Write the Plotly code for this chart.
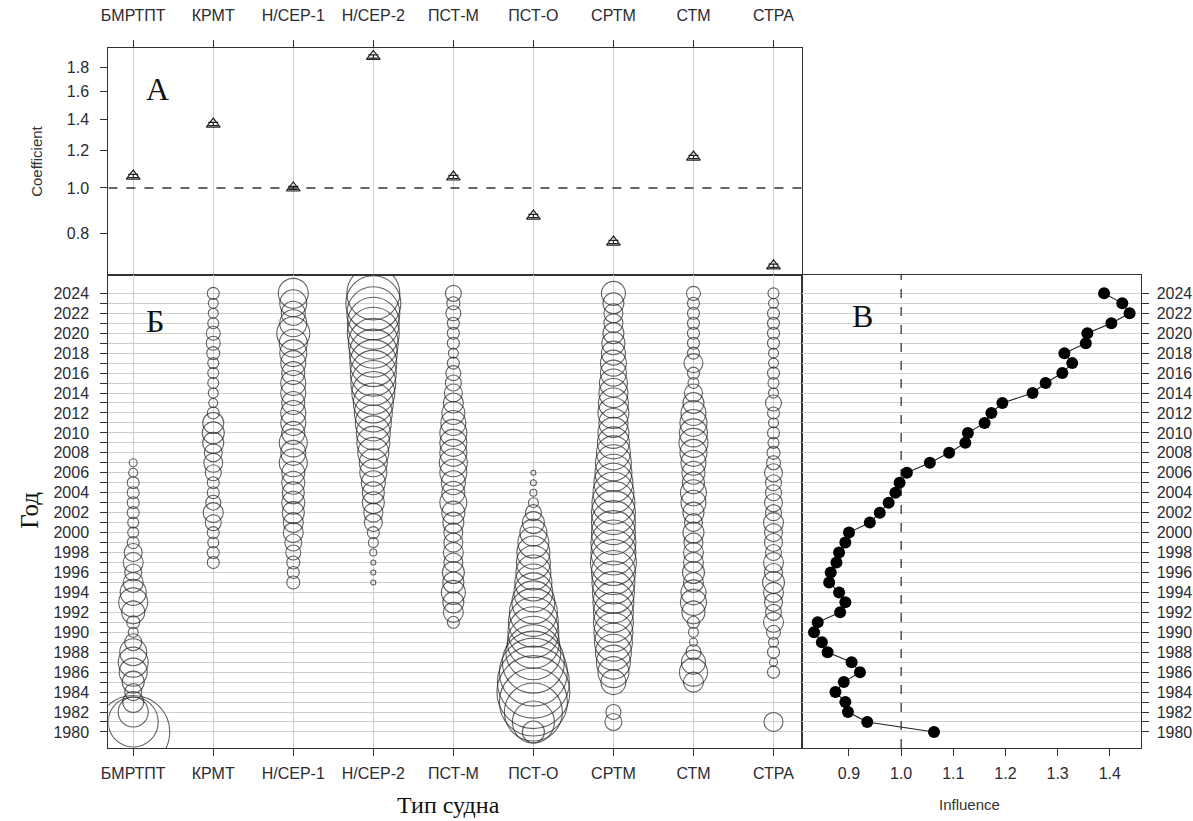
import plotly.graph_objects as go
import math

W, H = 1193, 821

# ---------------- data ----------------
vessel_types = ["БМРТПТ", "КРМТ", "Н/СЕР-1", "Н/СЕР-2", "ПСТ-М", "ПСТ-О", "СРТМ", "СТМ", "СТРА"]
coefficients = [1.06, 1.366, 1.0, 1.9, 1.055, 0.872, 0.768, 1.163, 0.684]

years = list(range(1980, 2025))
influence = [1.063, 0.935, 0.898, 0.893, 0.874, 0.890, 0.921, 0.905, 0.859, 0.848,
             0.833, 0.840, 0.883, 0.893, 0.881, 0.862, 0.865, 0.876, 0.881, 0.893,
             0.900, 0.940, 0.959, 0.976, 0.989, 0.997, 1.011, 1.055, 1.092, 1.123,
             1.128, 1.160, 1.173, 1.194, 1.252, 1.277, 1.309, 1.328, 1.313, 1.354,
             1.357, 1.403, 1.438, 1.424, 1.389]

# relative share of records per vessel type and year (first year given, then to 2024)
bmrtpt_start = 1980
bmrtpt = [73, 50, 30, 21, 17, 22, 28, 30, 27, 17, 10, 13, 23, 29, 26, 20, 17, 20, 18, 12,
          11, 11, 12, 12, 12, 12, 9, 8]
krmt_start = 1997
krmt = [12, 12, 11, 12, 16, 20, 15, 12, 12, 16, 19, 18, 21, 22, 21, 12, 9, 10, 11, 11,
        11, 13, 14, 14, 11, 10, 10, 12]
nser1_start = 1995
nser1 = [13, 12, 13, 15, 17, 20, 20, 22, 23, 22, 23, 23, 28, 25, 28, 23, 25, 25, 23, 25,
         25, 23, 25, 27, 28, 33, 27, 24, 27, 30]
nser2_start = 1995
nser2 = [5, 5, 5, 7, 10, 12, 18, 19, 22, 22, 24, 27, 28, 31, 33, 34, 36, 38, 40, 43,
         45, 46, 47, 48, 50, 52, 52, 53, 55, 53]
pstm_start = 1991
pstm = [12, 20, 21, 24, 21, 22, 19, 20, 19, 19, 21, 23, 27, 23, 24, 27, 28, 27, 27, 27,
        25, 23, 20, 18, 16, 15, 12, 10, 12, 12, 12, 15, 13, 16]
psto_start = 1980
psto = [22, 42, 58, 68, 73, 72, 68, 62, 55, 52, 51, 50, 48, 43, 39, 37, 35, 34, 33, 31,
        27, 22, 16, 10, 7, 6, 5]
srtm_start = 1981
srtm = [17, 15, None, None, 25, 31, 34, 36, 38, 39, 40, 40, 41, 42, 43, 44, 46, 45, 45, 44,
        44, 44, 43, 41, 39, 37, 36, 34, 32, 31, 29, 31, 30, 29, 28, 26, 26, 24, 23, 21,
        19, 19, 21, 24]
stm_start = 1985
stm = [20, 28, 24, 15, 8, 10, 12, 23, 26, 25, 20, 22, 20, 20, 19, 21, 18, 21, 25, 26,
       22, 23, 25, 27, 29, 28, 27, 25, 21, 18, 11, 12, 19, 12, 12, 12, 12, 12, 12, 14]
stra_start = 1981
stra = [19, None, None, None, None, 12, 8, 12, 10, 14, 20, 16, 18, 20, 22, 18, 20, 16, 18, 18,
        20, 16, 18, 16, 16, 18, 14, 13, 11, 12, 10, 12, 16, 10, 11, 12, 10, 10, 12, 12,
        12, 12, 10, 11]

columns = [(bmrtpt_start, bmrtpt), (krmt_start, krmt), (nser1_start, nser1),
           (nser2_start, nser2), (pstm_start, pstm), (psto_start, psto),
           (srtm_start, srtm), (stm_start, stm), (stra_start, stra)]

coef_ticks = [0.8, 1.0, 1.2, 1.4, 1.6, 1.8]
infl_ticks = [0.9, 1.0, 1.1, 1.2, 1.3, 1.4]

# ---------------- layout helpers ----------------
def fx(p):
    return p / W

def fy(p):
    return 1 - p / H

X_RANGE = [0.69, 9.36]
Y_RANGE = [1978.39, 2025.84]
COEF_RANGE = [math.log10(0.654), math.log10(1.98)]
INFL_RANGE = [0.8105, 1.4604]

TICKFONT = dict(family="Liberation Sans, Arial, sans-serif", size=16, color="#2b2b33")
GRID = "#cfcfcf"
LINE = "#333"

fig = go.Figure()

# top panel: coefficients
fig.add_trace(go.Scatter(x=X_RANGE, y=[1.0, 1.0], mode="lines",
                         line=dict(color="#333", width=1.3, dash="dash"),
                         xaxis="x", yaxis="y", hoverinfo="skip"))
fig.add_trace(go.Scatter(x=list(range(1, 10)), y=coefficients, mode="markers",
                         marker=dict(symbol="triangle-up-open", size=12, color="#222",
                                     line=dict(width=1.2)),
                         error_y=dict(type="percent", value=0.8, width=5, color="#222", thickness=1.2),
                         xaxis="x", yaxis="y"))

# bubble panel
for i, (start, vals) in enumerate(columns):
    ys = [start + k for k, v in enumerate(vals) if v is not None]
    ss = [v for v in vals if v is not None]
    fig.add_trace(go.Scatter(x=[i + 1] * len(ys), y=ys, mode="markers",
                             marker=dict(symbol="circle-open", size=ss, sizemode="diameter",
                                         sizeref=1, color="#222", line=dict(width=1.1)),
                             xaxis="x2", yaxis="y2"))

# influence panel
fig.add_trace(go.Scatter(x=[1.0, 1.0], y=Y_RANGE, mode="lines",
                         line=dict(color="#333", width=1.3, dash="dash"),
                         xaxis="x3", yaxis="y3", hoverinfo="skip"))
fig.add_trace(go.Scatter(x=influence, y=years, mode="lines+markers",
                         line=dict(color="#222", width=1.1),
                         marker=dict(symbol="circle", size=12, color="#000"),
                         xaxis="x3", yaxis="y3"))

year_text = [str(y) if y % 2 == 0 else "" for y in years]

axis_common = dict(showline=True, linecolor=LINE, linewidth=1.3, mirror=True,
                   ticks="outside", ticklen=7, tickcolor=LINE, tickfont=TICKFONT,
                   zeroline=False)

fig.update_layout(
    width=W, height=H, margin=dict(l=0, r=0, t=0, b=0),
    paper_bgcolor="white", plot_bgcolor="white", showlegend=False,
    xaxis=dict(domain=[fx(102), fx(800)], range=X_RANGE, anchor="y", side="top",
               tickvals=list(range(1, 10)), ticktext=vessel_types, ticklabelstandoff=12,
               showgrid=True, gridcolor=GRID, gridwidth=1, **axis_common),
    yaxis=dict(domain=[fy(275), fy(48)], range=COEF_RANGE, type="log", anchor="x",
               tickvals=coef_ticks, ticktext=[f"{v:.1f}" for v in coef_ticks],
               ticklabelstandoff=8, showgrid=False, **axis_common),
    xaxis2=dict(domain=[fx(102), fx(800)], range=X_RANGE, anchor="y2",
                tickvals=list(range(1, 10)), ticktext=vessel_types, ticklabelstandoff=4,
                showgrid=True, gridcolor=GRID, gridwidth=1, **axis_common),
    yaxis2=dict(domain=[fy(748), fy(275)], range=Y_RANGE, anchor="x2",
                tickvals=years, ticktext=year_text, ticklabelstandoff=8,
                showgrid=True, gridcolor=GRID, gridwidth=1, **axis_common),
    xaxis3=dict(domain=[fx(800), fx(1141)], range=INFL_RANGE, anchor="y3",
                tickvals=infl_ticks, ticktext=[f"{v:.1f}" for v in infl_ticks],
                ticklabelstandoff=4, showgrid=False, **axis_common),
    yaxis3=dict(domain=[fy(748), fy(275)], range=Y_RANGE, anchor="x3", side="right",
                tickvals=years, ticktext=year_text, ticklabelstandoff=4,
                showgrid=True, gridcolor=GRID, gridwidth=1, **axis_common),
)

serif = "Liberation Serif, Times New Roman, serif"
sans = "Liberation Sans, Arial, sans-serif"
annots = [
    dict(text="А", x=fx(151), y=fy(89), font=dict(family=serif, size=32, color="#111")),
    dict(text="Б", x=fx(149), y=fy(321), font=dict(family=serif, size=32, color="#111")),
    dict(text="В", x=fx(861), y=fy(316), font=dict(family=serif, size=32, color="#111")),
    dict(text="Год", x=fx(22), y=fy(510), textangle=-90,
         font=dict(family=serif, size=25, color="#111")),
    dict(text="Тип судна", x=fx(444), y=fy(805),
         font=dict(family=serif, size=24, color="#111")),
    dict(text="Coefficient", x=fx(29), y=fy(161), textangle=-90,
         font=dict(family=sans, size=15, color="#333")),
    dict(text="Influence", x=fx(968), y=fy(804),
         font=dict(family=sans, size=15, color="#333")),
]
for a in annots:
    a.update(xref="paper", yref="paper", showarrow=False, xanchor="center", yanchor="middle")
fig.update_layout(annotations=annots)

fig.write_html("out.html")
